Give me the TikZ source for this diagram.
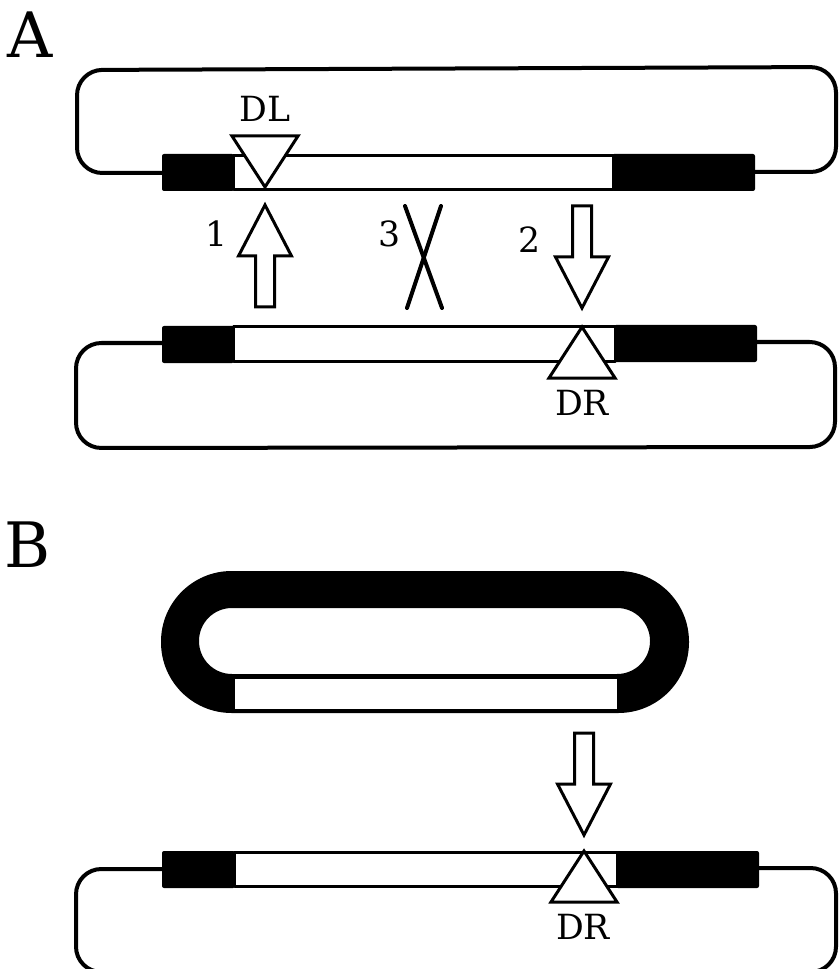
\documentclass[tikz,border=0pt]{standalone}
\usepackage{fontspec}
\setmainfont{DejaVu Serif}
\begin{document}
\begin{tikzpicture}[x=0.75pt,y=-0.75pt,line join=round]
\tikzset{
  wire/.style={line width=3pt,rounded corners=19pt},
  barline/.style={line width=2.25pt,fill=white},
  blackseg/.style={fill=black,rounded corners=1.5pt},
  outline/.style={line width=2.25pt,fill=white,line join=miter},
  panel/.style={font=\fontsize{47}{47}\selectfont,inner sep=0pt,anchor=base},
  tag/.style={font=\fontsize{26}{26}\selectfont,inner sep=0pt,anchor=base},
  % block arrow, tip at the origin, pointing to +y (down on the page)
  blockarrow/.pic={
    \draw[outline] (0,0) -- (-26.5,-51) -- (-9.5,-51) -- (-9.5,-102)
      -- (9.5,-102) -- (9.5,-51) -- (26.5,-51) -- cycle;
  },
  % site triangle, apex at the origin, base toward +y
  site/.pic={
    \draw[outline] (0,0) -- (-33,51) -- (33,51) -- cycle;
  }
}
\useasboundingbox (0,0) rectangle (839,969);

% ---------------- panel A ----------------
\node[panel] (labA) at (30,58) {A};

% upper plasmid
\coordinate (uL) at (162,173);
\coordinate (uR) at (755,172);
\draw[wire] (uL) -- (77,173) -- (77,70) -- (836,67) -- (836,172) -- (uR);
\fill[blackseg] (162,154) rectangle (234,191);
\fill[blackseg] (612,154) rectangle (755,191);
\draw[barline] (233,155.5) rectangle (613,189.5);
\pic[rotate=180] at (265,187) {site};
\node[tag] (DL) at (265,122) {DL};

% lower plasmid
\coordinate (lL) at (162,343);
\coordinate (lR) at (757,342);
\draw[wire] (lL) -- (76,343) -- (76,448) -- (835,447) -- (835,342) -- (lR);
\fill[blackseg] (162,326) rectangle (234,363);
\fill[blackseg] (614,325) rectangle (757,362);
\draw[barline] (233,327) rectangle (615,361);
\pic at (582,327) {site};
\node[tag] (DRa) at (582,415) {DR};

% events 1, 2, 3
\pic[rotate=180] at (265,205) {blockarrow};
\node[tag] (n1) at (217,247) {1};
\draw[line width=3pt,line cap=round] (405,206) -- (442,308);
\draw[line width=3pt,line cap=round] (441,206) -- (407,308);
\node[tag] (n3) at (390,247) {3};
\pic at (582,308) {blockarrow};
\node[tag] (n2) at (530,253) {2};

% ---------------- panel B ----------------
\node[panel] (labB) at (28,567) {B};

% excised circle
\fill[even odd rule] (161,571) [rounded corners=53pt] rectangle (689,713)
  (199,608) [rounded corners=24.7pt] rectangle (650,674);
\draw[line width=0.6pt,fill=white] (234,678) rectangle (617,709);

\pic at (584,835) {blockarrow};

% target plasmid
\coordinate (bL) at (162,869);
\coordinate (bR) at (759,868);
\draw[wire] (bL) -- (76,869) -- (76,972) -- (836,972) -- (836,868) -- (bR);
\fill[blackseg] (162,851) rectangle (235,888);
\fill[blackseg] (616,851) rectangle (759,888);
\draw[barline] (234,852.5) rectangle (617,886.5);
\pic at (584,851) {site};
\node[tag] (DRb) at (583,939) {DR};
\end{tikzpicture}
\end{document}
